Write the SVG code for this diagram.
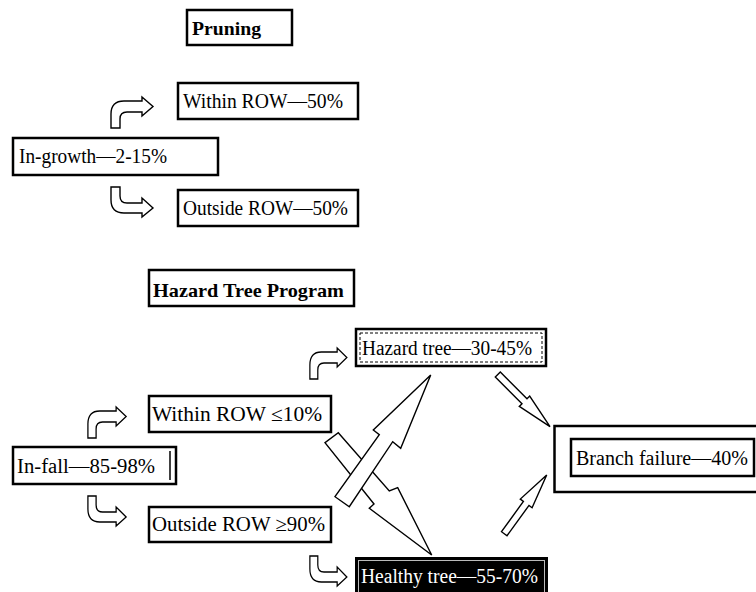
<svg xmlns="http://www.w3.org/2000/svg" width="756" height="592" viewBox="0 0 756 592">
<style>
.box{fill:#fff;stroke:#000;stroke-width:2.5}
.t{font-family:"Liberation Serif","Times New Roman",serif;font-size:20px;fill:#000}
.b{font-weight:bold;font-size:19px}
.arr{fill:#fff;stroke:#000;stroke-width:1.4;stroke-linejoin:miter}
</style>
<defs>
<path id="bendUp" d="M1,31 L1,17 Q1,4 14,4 L32,4 L32,0 L43,9.5 L32,19 L32,15 L17,15 Q10,15 10,22 L10,31 Z"/>
<path id="bendDown" d="M1,0 L10,0 L10,9 Q10,16 17,16 L32,16 L32,11 L43,21 L32,30 L32,26 L14,26 Q1,26 1,13 Z"/>
</defs>
<rect width="756" height="592" fill="#fff"/>

<g id="pruning">
<rect class="box" x="187" y="10" width="105" height="35" stroke-width="2"/>
<text class="t b" x="192" y="35" textLength="69" lengthAdjust="spacingAndGlyphs">Pruning</text>
</g>
<g id="within-row-50">
<rect class="box" x="178" y="83" width="180" height="36"/>
<text class="t" x="183" y="108" textLength="160" lengthAdjust="spacingAndGlyphs">Within ROW—50%</text>
</g>
<g id="in-growth">
<rect class="box" x="13" y="138" width="205" height="37"/>
<text class="t" x="19" y="163" textLength="148" lengthAdjust="spacingAndGlyphs">In-growth—2-15%</text>
</g>
<g id="outside-row-50">
<rect class="box" x="178" y="190" width="180" height="36"/>
<text class="t" x="183" y="215" textLength="165" lengthAdjust="spacingAndGlyphs">Outside ROW—50%</text>
</g>

<g id="hazard-tree-program">
<rect class="box" x="149" y="270" width="205" height="36"/>
<text class="t b" x="153" y="297" textLength="191" lengthAdjust="spacingAndGlyphs">Hazard Tree Program</text>
</g>
<g id="hazard-tree">
<rect class="box" x="356" y="329" width="190" height="37" stroke-width="3"/>
<rect x="360" y="333" width="182" height="29" fill="none" stroke="#000" stroke-width="1" stroke-dasharray="3 2"/>
<text class="t" x="362" y="355" textLength="170" lengthAdjust="spacingAndGlyphs">Hazard tree—30-45%</text>
</g>
<g id="within-row-10">
<rect class="box" x="149" y="396" width="182" height="36" stroke-width="3"/>
<text class="t" x="152" y="421" textLength="170" lengthAdjust="spacingAndGlyphs">Within ROW ≤10%</text>
</g>
<g id="in-fall">
<rect class="box" x="13" y="447" width="163" height="37" stroke-width="3"/>
<text class="t" x="17" y="473" textLength="138" lengthAdjust="spacingAndGlyphs">In-fall—85-98%</text>
<line x1="170" y1="451" x2="170" y2="480" stroke="#000" stroke-width="1.5"/>
</g>
<g id="outside-row-90">
<rect class="box" x="149" y="507" width="182" height="35" stroke-width="3"/>
<text class="t" x="152" y="531" textLength="173" lengthAdjust="spacingAndGlyphs">Outside ROW ≥90%</text>
</g>
<g id="healthy-tree">
<rect x="355" y="557" width="193" height="40" fill="#000"/>
<rect x="358.5" y="560.5" width="186" height="40" fill="none" stroke="#bbb" stroke-width="1"/>
<text class="t" x="361" y="583" style="fill:#fff" textLength="177" lengthAdjust="spacingAndGlyphs">Healthy tree—55-70%</text>
</g>
<g id="branch-failure">
<rect class="box" x="554.5" y="426" width="210" height="66" stroke-width="3"/>
<rect class="box" x="571" y="439" width="183" height="37" stroke-width="3"/>
<text class="t" x="576" y="465" textLength="172" lengthAdjust="spacingAndGlyphs">Branch failure—40%</text>
</g>

<g id="connectors">
<use href="#bendUp" class="arr" transform="translate(110,97)"/>
<use href="#bendDown" class="arr" transform="translate(110,187)"/>
<use href="#bendUp" class="arr" transform="translate(87,407) scale(0.91,1)"/>
<use href="#bendDown" class="arr" transform="translate(87,496) scale(0.91,1)"/>
<use href="#bendUp" class="arr" transform="translate(309,348) scale(0.88,1)"/>
<use href="#bendDown" class="arr" transform="translate(309,556) scale(0.88,1)"/>
<polygon class="arr" points="338.3,432.7 389.3,491 397.7,487.7 431.7,555 369.3,508.3 374,504 325,442.7"/>
<polygon class="arr" points="430.7,375 400.7,448.3 392.7,441.7 349.3,506.7 335,496.7 379.3,434.7 373.3,430"/>
<polygon class="arr" points="500.3,372 527,398.7 529.7,396 550,426.7 519.3,406.4 522,403.7 495.3,377"/>
<polygon class="arr" points="501.5,531.7 523.4,501.4 520.3,499.1 546.7,475 532.1,507.7 529,505.4 507,535.7"/>
</g>
</svg>
